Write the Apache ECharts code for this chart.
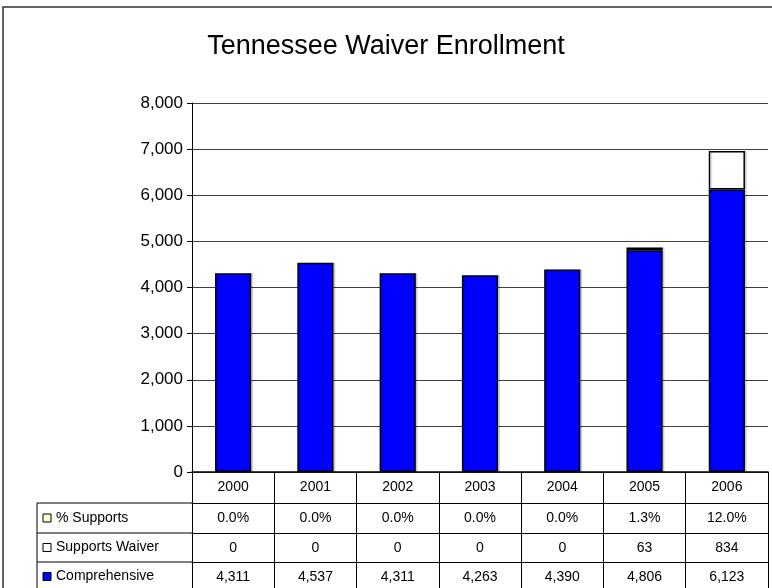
<!DOCTYPE html>
<html>
<head>
<meta charset="utf-8">
<script src="https://cdn.jsdelivr.net/npm/echarts@6/dist/echarts.min.js"></script>
<style>
  html, body { margin: 0; padding: 0; background: #fff; }
  #chart { width: 772px; height: 588px; }
</style>
</head>
<body>
<div id="chart"></div>
<script>
// Enrollment by year
const years = ['2000', '2001', '2002', '2003', '2004', '2005', '2006'];
const comprehensive = [4311, 4537, 4311, 4263, 4390, 4806, 6123];
const supportsWaiver = [0, 0, 0, 0, 0, 63, 834];
const pctSupports = [0.0, 0.0, 0.0, 0.0, 0.0, 1.3, 12.0];
const yTicks = [0, 1000, 2000, 3000, 4000, 5000, 6000, 7000, 8000];

const FONT = '"Liberation Sans", Arial, sans-serif';
const fmtInt = v => v.toLocaleString('en-US');
const fmtPct = v => v.toFixed(1) + '%';
// empty segments are not drawn (avoids a doubled border on top of the bar)
const skipZero = v => (v === 0 ? '-' : v);

// layout of the plot and the data table under it
const gridLeft = 192, gridRight = 4, gridTop = 103, gridBottom = 116;
const H = 588;
const axisY = H - gridBottom;
const rowOffsets = [31, 61, 90];     // distance of each table row's top line below the x axis
const tableLeft = 37;

const rows = [
  { name: '% Supports', color: '#FFFFCC', labels: pctSupports.map(fmtPct) },
  { name: 'Supports Waiver', color: '#FFFFFF', labels: supportsWaiver.map(fmtInt) },
  { name: 'Comprehensive', color: '#0000FF', labels: comprehensive.map(fmtInt) }
];

// one category axis per table row: its line is the row's top border, its labels the cells
const tableAxes = rows.map((r, i) => ({
  type: 'category',
  gridIndex: 0,
  position: 'bottom',
  offset: rowOffsets[i],
  data: r.labels,
  axisLine: { show: true, lineStyle: { color: '#000', width: 1 } },
  axisTick: { show: false },
  splitLine: { show: false },
  axisLabel: { color: '#000', fontFamily: FONT, fontSize: 14, margin: 8, interval: 0 }
}));

const chart = echarts.init(document.getElementById('chart'), null, { renderer: 'canvas' });

// outer frame and the legend column of the table
const graphics = [
  { type: 'rect', shape: { x: 3, y: 7, width: 800, height: 700 },
    style: { fill: 'none', stroke: '#333', lineWidth: 1.5 }, silent: true }
];
const rowTops = rowOffsets.map(o => axisY + o);
const rowBottoms = [rowTops[1], rowTops[2], rowTops[2] + 29];
rows.forEach((r, i) => {
  graphics.push({ type: 'line', shape: { x1: tableLeft, y1: rowTops[i], x2: gridLeft, y2: rowTops[i] },
    style: { stroke: '#000', lineWidth: 1 } });
  const cy = (rowTops[i] + rowBottoms[i]) / 2;
  graphics.push({ type: 'rect', shape: { x: tableLeft + 6, y: cy - 4, width: 8, height: 8 },
    style: { fill: r.color, stroke: '#000', lineWidth: 1 } });
  graphics.push({ type: 'text', x: tableLeft + 19, y: cy,
    style: { text: r.name, fill: '#000', font: '14px ' + FONT, verticalAlign: 'middle', textAlign: 'left' } });
});
graphics.push({ type: 'line', shape: { x1: tableLeft, y1: rowTops[0], x2: tableLeft, y2: H + 10 },
  style: { stroke: '#000', lineWidth: 1 } });

chart.setOption({
  animation: false,
  backgroundColor: '#fff',
  title: {
    text: 'Tennessee Waiver Enrollment',
    left: 'center', top: 28,
    textStyle: { fontFamily: FONT, fontSize: 27, fontWeight: 'normal', color: '#000' }
  },
  grid: { left: gridLeft, right: gridRight, top: gridTop, bottom: gridBottom, containLabel: false },
  xAxis: [
    {
      type: 'category',
      data: years,
      position: 'bottom',
      axisLine: { show: true, lineStyle: { color: '#000', width: 1.5 } },
      axisTick: { show: true, alignWithLabel: false, interval: 0, length: 130,
                  lineStyle: { color: '#000', width: 1 } },
      axisLabel: { color: '#000', fontFamily: FONT, fontSize: 14, margin: 8, interval: 0 },
      splitLine: { show: false }
    }
  ].concat(tableAxes),
  yAxis: {
    type: 'value',
    min: yTicks[0], max: yTicks[yTicks.length - 1], interval: yTicks[1] - yTicks[0],
    axisLine: { show: true, lineStyle: { color: '#000', width: 1 } },
    axisTick: { show: true, length: 5, lineStyle: { color: '#000' } },
    axisLabel: { color: '#000', fontFamily: FONT, fontSize: 17, margin: 9, formatter: v => fmtInt(v) },
    splitLine: { show: true, lineStyle: { color: '#404040', width: 1 } }
  },
  series: [
    {
      name: 'Comprehensive', type: 'bar', stack: 'enroll', data: comprehensive, barWidth: '44%',
      itemStyle: { color: '#0000FF', borderColor: '#000', borderWidth: 1.5,
                   shadowColor: 'rgba(0,0,0,0.12)', shadowOffsetX: 2, shadowBlur: 0 }
    },
    {
      name: 'Supports Waiver', type: 'bar', stack: 'enroll', data: supportsWaiver.map(skipZero), barWidth: '44%',
      itemStyle: { color: '#FFFFFF', borderColor: '#000', borderWidth: 1.5,
                   shadowColor: 'rgba(0,0,0,0.12)', shadowOffsetX: 2, shadowBlur: 0 }
    },
    {
      name: '% Supports', type: 'bar', stack: 'enroll', data: pctSupports.map(v => skipZero(v / 100)), barWidth: '44%',
      itemStyle: { color: '#FFFFCC', borderWidth: 0 }
    }
  ],
  graphic: graphics
});
</script>
</body>
</html>
